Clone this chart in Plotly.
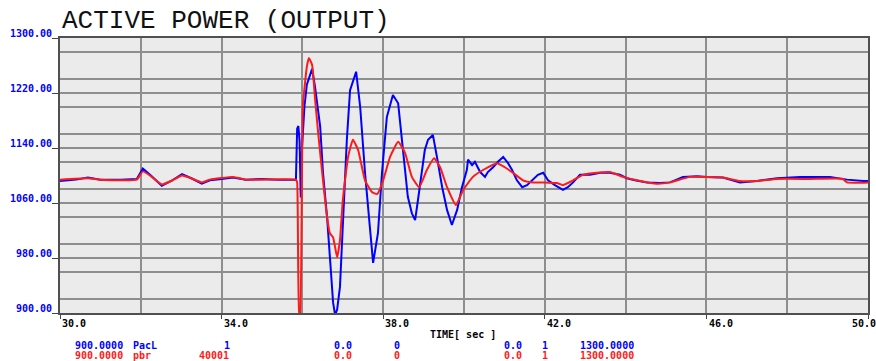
import plotly.graph_objects as go

# ---------------- data ----------------
title_text = "ACTIVE POWER (OUTPUT)"

blue_t = [30.00, 30.40, 30.69, 31.00, 31.50, 31.90, 32.05, 32.25, 32.52, 32.75,
          33.02, 33.25, 33.51, 33.71, 34.00, 34.28, 34.60, 35.00, 35.40, 35.84,
          35.87, 35.90, 35.93, 35.96, 35.99, 36.05, 36.11, 36.24, 36.31, 36.44,
          36.51, 36.61, 36.68, 36.76, 36.81, 36.86, 36.93, 37.00, 37.10, 37.18,
          37.33, 37.43, 37.55, 37.67, 37.75, 37.87, 37.97, 38.09, 38.24, 38.37,
          38.49, 38.61, 38.71, 38.79, 38.86, 39.03, 39.11, 39.23, 39.33, 39.46,
          39.58, 39.70, 39.83, 39.95, 40.07, 40.10, 40.20, 40.27, 40.40, 40.52,
          40.59, 40.72, 40.84, 40.97, 41.09, 41.19, 41.31, 41.44, 41.56, 41.68,
          41.83, 41.96, 42.08, 42.25, 42.45, 42.57, 42.70, 42.87, 43.12, 43.37,
          43.61, 43.86, 44.03, 44.23, 44.53, 44.85, 45.10, 45.42, 45.77, 46.01,
          46.41, 46.83, 47.25, 47.75, 48.32, 49.06, 49.48, 49.88, 50.00]
blue_v = [1092, 1094, 1097, 1094, 1094, 1095, 1110, 1100, 1085, 1092,
          1102, 1096, 1088, 1093, 1095, 1097, 1094, 1095, 1094, 1094,
          1168, 1172, 1150, 1068, 1140, 1200, 1232, 1255, 1230, 1171,
          1104, 1040, 982, 915, 897, 905, 938, 1025, 1152, 1224,
          1251, 1200, 1104, 1025, 973, 1016, 1104, 1185, 1217, 1205,
          1137, 1069, 1045, 1035, 1064, 1137, 1152, 1159, 1127, 1083,
          1050, 1028, 1050, 1083, 1108, 1123, 1115, 1120, 1105, 1098,
          1105, 1112, 1120, 1127, 1118, 1108, 1093, 1083, 1086, 1093,
          1101, 1104, 1093, 1086, 1079, 1083, 1090, 1101, 1101, 1104,
          1104, 1101, 1096, 1093, 1090, 1089, 1090, 1098, 1099, 1098,
          1097, 1090, 1092, 1096, 1098, 1098, 1094, 1092, 1092]

red_t = [30.00, 30.69, 31.00, 31.90, 32.05, 32.25, 32.52, 32.75, 33.02, 33.25,
         33.51, 33.71, 34.28, 34.60, 35.84, 35.87, 35.92, 35.94, 36.01, 36.11,
         36.16, 36.24, 36.31, 36.39, 36.49, 36.61, 36.68, 36.76, 36.86, 36.93,
         37.00, 37.13, 37.25, 37.38, 37.55, 37.72, 37.85, 38.00, 38.17, 38.37,
         38.54, 38.71, 38.89, 39.08, 39.26, 39.41, 39.58, 39.80, 39.98, 40.22,
         40.47, 40.82, 41.01, 41.21, 41.46, 41.71, 42.00, 42.30, 42.45, 42.70,
         42.95, 43.29, 43.61, 43.94, 44.28, 44.78, 45.10, 45.59, 46.01, 46.41,
         46.83, 47.25, 47.75, 48.56, 49.38, 49.48, 50.00]
red_v = [1094, 1096, 1094, 1094, 1106, 1099, 1087, 1092, 1100, 1096,
         1090, 1094, 1098, 1094, 1094, 1090, 898, 898, 1200, 1258,
         1271, 1261, 1214, 1162, 1104, 1040, 1016, 1010, 981, 1006,
         1064, 1127, 1152, 1137, 1093, 1076, 1073, 1093, 1127, 1149,
         1133, 1098, 1083, 1108, 1125, 1112, 1083, 1057, 1079, 1098,
         1108, 1118, 1112, 1104, 1093, 1090, 1090, 1089, 1086, 1093,
         1101, 1104, 1105, 1098, 1093, 1088, 1090, 1098, 1098, 1097,
         1092, 1092, 1095, 1095, 1095, 1090, 1090]

x_tick_vals = [30, 34, 38, 42, 46, 50]
x_tick_text = ["30.0", "34.0", "38.0", "42.0", "46.0", "50.0"]
y_tick_vals = [1300, 1220, 1140, 1060, 980, 900]
y_tick_text = ["1300.00", "1220.00", "1140.00", "1060.00", "980.00", "900.00"]

legend_blue = ["900.0000", "PacL", "1", "0.0", "0", "0.0", "1", "1300.0000"]
legend_red = ["900.0000", "pbr", "40001", "0.0", "0", "0.0", "1", "1300.0000"]
axis_label = "TIME[ sec ]"

# ---------------- layout constants ----------------
W, H = 876, 361
L, R, T, B = 60, 8, 38, 48
PW, PH = W - L - R, H - T - B
BLUE, RED = "#0000ff", "#ff1a1a"
SMALL = dict(family="DejaVu Sans Mono", size=10, color="black")


def px_x(px):
    return (px - L) / PW


def px_y(py):
    return (H - B - py) / PH


fig = go.Figure()
fig.add_trace(go.Scatter(x=blue_t, y=blue_v, mode="lines",
                         line=dict(color=BLUE, width=2), hoverinfo="skip"))
fig.add_trace(go.Scatter(x=red_t, y=red_v, mode="lines",
                         line=dict(color=RED, width=2, shape="spline", smoothing=0.4),
                         hoverinfo="skip"))

ann = []
# title
ann.append(dict(text=title_text, xref="paper", yref="paper", x=0, y=1,
                xanchor="left", yanchor="bottom", yshift=0, showarrow=False,
                font=dict(family="Liberation Mono", size=26, color="#111")))
# x tick labels
x_label_px = [60, 222, 383, 545, 707, 850]
for v, txt, lp in zip(x_tick_vals, x_tick_text, x_label_px):
    ann.append(dict(text="<b>" + txt + "</b>", xref="paper", yref="paper",
                    x=px_x(lp), y=px_y(323), xanchor="left", yanchor="middle",
                    showarrow=False, font=SMALL))
# y tick labels (blue, sitting on the tick line)
for v, txt in zip(y_tick_vals, y_tick_text):
    ann.append(dict(text="<b>" + txt + "</b>", xref="paper", yref="y",
                    x=px_x(54), y=v, xanchor="right", yanchor="bottom",
                    yshift=-3, showarrow=False,
                    font=dict(family="DejaVu Sans Mono", size=10, color=BLUE)))
# axis label
ann.append(dict(text="<b>" + axis_label + "</b>", xref="paper", yref="paper",
                x=px_x(428), y=px_y(334), xanchor="left", yanchor="middle",
                showarrow=False, font=SMALL))
# legend rows
leg_px = [73, 131, None, 332, 392, 502, 540, 578]
red_third_px = 197
for row, items, col, py in [(0, legend_blue, BLUE, 345), (1, legend_red, RED, 355)]:
    for i, (txt, lp) in enumerate(zip(items, leg_px)):
        if lp is None:
            lp = 222 if row == 0 else red_third_px
        ann.append(dict(text="<b>" + txt + "</b>", xref="paper", yref="paper",
                        x=px_x(lp), y=px_y(py), xanchor="left", yanchor="middle",
                        showarrow=False,
                        font=dict(family="DejaVu Sans Mono", size=10, color=col)))

grid_col = "#8e8e8e"
fig.update_layout(
    width=W, height=H,
    margin=dict(l=L, r=R, t=T, b=B, pad=0, autoexpand=False),
    paper_bgcolor="white", plot_bgcolor="#ebebeb",
    showlegend=False,
    annotations=ann,
    xaxis=dict(range=[30, 50], tickvals=x_tick_vals, showticklabels=False,
               ticks="outside", ticklen=4, tickcolor="#444", tickwidth=1,
               showgrid=True, gridcolor=grid_col, gridwidth=2,
               minor=dict(dtick=2, showgrid=True, gridcolor=grid_col, gridwidth=2),
               showline=True, mirror=True, linecolor="#505050", linewidth=2,
               zeroline=False, fixedrange=True, automargin=False),
    yaxis=dict(range=[900, 1300], tickvals=y_tick_vals, showticklabels=False,
               ticks="outside", ticklen=6, tickcolor="#444", tickwidth=1,
               showgrid=True, gridcolor=grid_col, gridwidth=2,
               minor=dict(dtick=40, showgrid=True, gridcolor=grid_col, gridwidth=2),
               showline=True, mirror=True, linecolor="#505050", linewidth=2,
               zeroline=False, fixedrange=True, automargin=False),
)

fig.write_html("out.html", config={"displayModeBar": False},
               post_script="document.body.style.margin='0';document.body.style.overflow='hidden';")
